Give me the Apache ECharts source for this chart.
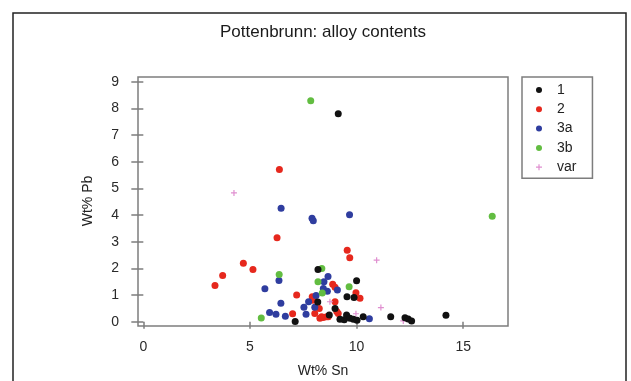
<!DOCTYPE html>
<html>
<head>
<meta charset="utf-8">
<script src="https://cdn.jsdelivr.net/npm/echarts@6/dist/echarts.min.js"></script>
<style>
  html, body { margin: 0; padding: 0; background: #fff; }
  #chart { width: 631px; height: 381px; }
</style>
</head>
<body>
<div id="chart"></div>
<script>
// Alloy groups shown in the legend
const groups = ['1', '2', '3a', '3b', 'var'];

// Group 1: Sn / Pb weight percentages
const sn1 = [9.14, 8.19, 8.18, 7.12, 10.0, 9.55, 9.88, 8.99, 8.72, 9.53, 9.22, 9.42, 9.69, 9.85, 10.02, 10.31, 11.6, 12.27, 12.42, 12.58, 14.19];
const pb1 = [7.80, 1.96, 0.74, 0.01, 1.54, 0.94, 0.91, 0.50, 0.25, 0.25, 0.09, 0.07, 0.13, 0.09, 0.06, 0.19, 0.19, 0.15, 0.10, 0.03, 0.24];

// Group 2
const sn2 = [6.38, 6.27, 9.56, 9.68, 4.69, 5.14, 3.72, 3.36, 7.19, 7.0, 7.92, 7.94, 8.04, 8.28, 8.44, 8.59, 8.88, 8.99, 8.99, 9.07, 9.14, 9.97, 10.16, 8.36, 8.67, 8.25];
const pb2 = [5.71, 3.15, 2.68, 2.40, 2.19, 1.96, 1.73, 1.36, 1.00, 0.30, 0.94, 0.81, 0.31, 0.13, 0.16, 0.19, 1.41, 1.29, 0.75, 0.38, 0.31, 1.09, 0.88, 0.19, 0.19, 0.50];

// Group 3a
const sn3a = [6.46, 7.91, 7.97, 9.67, 6.36, 5.70, 6.45, 5.92, 6.22, 6.66, 8.66, 8.47, 8.63, 8.10, 7.75, 7.53, 8.04, 7.63, 9.10, 10.6, 8.44];
const pb3a = [4.26, 3.88, 3.79, 4.01, 1.55, 1.24, 0.69, 0.35, 0.28, 0.21, 1.70, 1.50, 1.14, 0.98, 0.75, 0.54, 0.54, 0.28, 1.19, 0.11, 1.25];

// Group 3b
const sn3b = [7.85, 16.36, 6.37, 5.53, 8.37, 8.19, 8.39, 9.65];
const pb3b = [8.29, 3.96, 1.77, 0.14, 2.00, 1.50, 1.08, 1.31];

// Various
const snVar = [4.25, 10.94, 8.75, 9.97, 11.14, 12.19];
const pbVar = [4.83, 2.31, 0.75, 0.30, 0.53, 0.03];

// Axis tick positions
const snTicks = [0, 5, 10, 15];
const pbTicks = [0, 1, 2, 3, 4, 5, 6, 7, 8, 9];

const colors = ['#111111', '#e6281d', '#2f3d9f', '#62bd41', '#e08fd0'];
const plusPath = 'path://M4,0h2v4h4v2h-4v4h-2v-4h-4v-2h4z';

function pairs(xs, ys) { return xs.map((x, i) => [x, ys[i]]); }

const seriesData = [pairs(sn1, pb1), pairs(sn2, pb2), pairs(sn3a, pb3a), pairs(sn3b, pb3b), pairs(snVar, pbVar)];

const chart = echarts.init(document.getElementById('chart'), null, { renderer: 'canvas' });
const font = 'Liberation Sans, Arial, sans-serif';
const axisGray = '#7d7d7d';

chart.setOption({
  animation: false,
  backgroundColor: '#ffffff',
  grid: {
    left: 138, top: 77, right: 123, bottom: 55,
    show: true, borderColor: axisGray, borderWidth: 1.5, backgroundColor: 'transparent'
  },
  xAxis: {
    type: 'value', min: -0.25, max: 17.1,
    splitLine: { show: false },
    axisLine: { show: false },
    axisTick: { show: true, length: 7, customValues: snTicks, lineStyle: { color: axisGray, width: 1.5 } },
    axisLabel: { customValues: snTicks, margin: 14, fontFamily: font, fontSize: 14, color: '#2a2a2a' }
  },
  yAxis: {
    type: 'value', min: -0.16, max: 9.18,
    splitLine: { show: false },
    axisLine: { show: false },
    axisTick: { show: true, length: 12, customValues: pbTicks, lineStyle: { color: axisGray, width: 1.5 } },
    axisLabel: { customValues: pbTicks, margin: 19, fontFamily: font, fontSize: 14, color: '#2a2a2a' }
  },
  legend: {
    orient: 'vertical', left: 522, top: 77,
    data: groups.map((g, i) => ({ name: g, icon: i === 4 ? plusPath : 'circle' })),
    itemWidth: 26, itemHeight: 6, itemGap: 5.3,
    padding: [6, 16, 4, 14],
    borderColor: axisGray, borderWidth: 1.5,
    textStyle: { fontFamily: font, fontSize: 14, color: '#222', lineHeight: 14 }
  },
  series: groups.map((g, i) => ({
    name: g, type: 'scatter',
    data: seriesData[i],
    symbol: i === 4 ? plusPath : 'circle',
    symbolSize: i === 4 ? 6 : 7,
    itemStyle: { color: colors[i], opacity: 1 },
    z: i === 0 ? 5 : 3
  })),
  graphic: [
    { type: 'rect', shape: { x: 13, y: 13, width: 613, height: 420 },
      style: { fill: 'none', stroke: '#222', lineWidth: 1.5 }, silent: true },
    { type: 'text', x: 323, y: 32,
      style: { text: 'Pottenbrunn: alloy contents', font: '17px ' + font, fill: '#1a1a1a', textAlign: 'center', textVerticalAlign: 'middle' } },
    { type: 'text', x: 323, y: 371,
      style: { text: 'Wt% Sn', font: '14px ' + font, fill: '#222', textAlign: 'center', textVerticalAlign: 'middle' } },
    { type: 'text', rotation: Math.PI / 2, x: 88, y: 201,
      style: { text: 'Wt% Pb', font: '14px ' + font, fill: '#222', textAlign: 'center', textVerticalAlign: 'middle' } }
  ]
});
</script>
</body>
</html>
